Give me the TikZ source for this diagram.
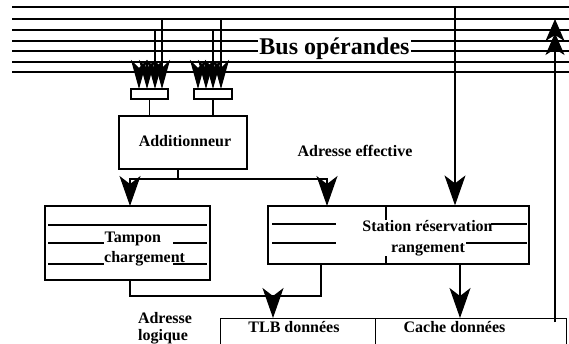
\documentclass[tikz,border=0pt]{standalone}
\usepackage{fontspec}
\setmainfont{Liberation Serif}
\usetikzlibrary{arrows.meta}
\begin{document}
\begin{tikzpicture}[x=1pt,y=-1pt,
  ln/.style={line width=1.1pt},
  box/.style={draw,line width=1.2pt,rectangle,inner sep=0pt},
  lbl/.style={font=\fontsize{16}{19}\selectfont\bfseries,inner sep=0pt},
  arr/.style={ln,-{Stealth[length=30pt,width=21pt,inset=8pt]}},
  sarr/.style={ln,-{Stealth[length=29pt,width=16pt,inset=8pt]}},
  darr/.style={ln,-{Stealth[length=22pt,width=19pt,inset=6pt]}}
]
\useasboundingbox (0,0) rectangle (569,344);
\clip (0,0) rectangle (569,344);
% bus
\node[font=\fontsize{24}{24}\selectfont\bfseries,inner ysep=0pt,inner xsep=1.5pt,anchor=base] (bus) at (334.5,55) {Bus opérandes};
\foreach \y in {7,19,30,62,72} \draw[ln] (12,\y) -- (569,\y);
\coordinate (L41) at (12,41);
\coordinate (R41) at (569,41);
\coordinate (L51) at (12,51);
\coordinate (R51) at (569,51);
\draw[ln] (L41) -- (bus.west |- L41);
\draw[ln] (bus.east |- R41) -- (R41);
\draw[ln] (L51) -- (bus.west |- L51);
\draw[ln] (bus.east |- R51) -- (R51);
% input boxes
\node[box,minimum width=37pt,minimum height=10pt] (in1) at (149.5,94) {};
\node[box,minimum width=38pt,minimum height=10pt] (in2) at (213,94) {};
\foreach \x/\y in {139/72,147/62,155/30,162/19,198/72,206/62,213/30,221/19}
  \draw[sarr] (\x,\y) -- (\x,89);
% adder
\node[box,minimum width=128pt,minimum height=53pt] (add) at (183,142.5) {};
\node[lbl,anchor=base] (addt) at (185,147) {Additionneur};
\draw[ln] (in1.south) -- (in1.south |- add.north);
\draw[ln] (in2.south) -- (in2.south |- add.north);
\coordinate (j1) at (178,179);
\coordinate (tin) at (130,206);
\coordinate (sin) at (327,206);
\draw[ln] (add.south -| j1) -- (j1);
\draw[arr] (j1) -| (tin);
\draw[arr] (j1) -| (sin);
\node[lbl,anchor=base] (ae) at (355,157) {Adresse effective};
% tampon
\node[box,minimum width=165pt,minimum height=74pt] (tamp) at (127.5,243) {};
\draw[ln] (48,225) -- (207,225);
\draw[ln] (48,243) -- (104,243);
\draw[ln] (173,243) -- (207,243);
\draw[ln] (48,264) -- (104,264);
\draw[ln] (173,264) -- (207,264);
\node[lbl,anchor=base west] (t1) at (104.5,243) {Tampon};
\node[lbl,anchor=base west] (t2) at (104,262) {chargement};
% station
\node[box,minimum width=261pt,minimum height=58pt] (stat) at (398.5,235) {};
\draw[ln] (386,206) -- (386,220);
\draw[ln] (386,256) -- (386,264);
\draw[ln] (272,224) -- (336,224);
\draw[ln] (272,243) -- (336,243);
\draw[ln] (491,224) -- (527,224);
\draw[ln] (466,243) -- (527,243);
\node[lbl,anchor=base] (s1) at (427.5,232) {Station réservation};
\node[lbl,anchor=base] (s2) at (428,252) {rangement};
\coordinate (b0) at (455,7);
\draw[arr] (b0) -- (b0 |- stat.north);
% tlb / cache
\node[box,minimum width=155pt,minimum height=42pt,anchor=north west] (tlb) at (220,318) {};
\node[box,minimum width=191pt,minimum height=42pt,anchor=north west] (cache) at (375,318) {};
\node[lbl,anchor=base] (tlbt) at (294,332) {TLB données};
\node[lbl,anchor=base] (cat) at (454.5,332) {Cache données};
\coordinate (tb) at (130,280);
\coordinate (j2) at (321,296);
\draw[ln] (tb) |- (j2) -- (j2 |- stat.south);
\coordinate (j3) at (273,296);
\draw[arr] (j3) -- (j3 |- tlb.north);
\coordinate (sc) at (460,264);
\draw[arr] (sc) -- (sc |- cache.north);
\node[lbl,anchor=base] (al1) at (165,323) {Adresse};
\node[lbl,anchor=base] (al2) at (163,340) {logique};
% return to bus
\coordinate (r0) at (555,322);
\coordinate (r1) at (555,19);
\coordinate (r2) at (555,33);
\draw[darr] (r0) -- (r1);
\draw[darr] (r0) -- (r2);
\end{tikzpicture}
\end{document}
